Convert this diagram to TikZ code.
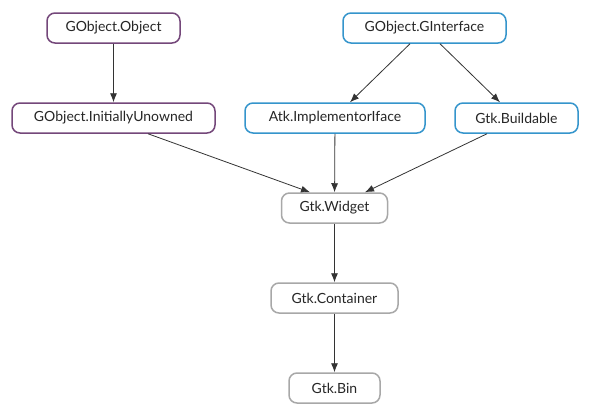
\documentclass[tikz,border=0pt]{standalone}
\usepackage{fontspec}
\setmainfont{Lato}
\usetikzlibrary{arrows.meta}
\definecolor{gpurple}{HTML}{74477A}
\definecolor{gblue}{HTML}{3595CC}
\definecolor{ggray}{HTML}{A8A8A8}
\definecolor{edgec}{HTML}{333333}
\tikzset{
  cls/.style={draw, line width=1.5pt, rounded corners=8pt, fill=white, minimum height=30pt,
    inner xsep=0pt, inner ysep=0pt, font=\fontsize{14}{16}\selectfont, text=black!85},
  purplebox/.style={cls, draw=gpurple},
  bluebox/.style={cls, draw=gblue},
  graybox/.style={cls, draw=ggray},
  edge/.style={draw=edgec, line width=0.8pt, -{Latex[length=9pt,width=7pt]}}
}
\begin{document}
\begin{tikzpicture}[x=1pt,y=-1pt]
\useasboundingbox[fill=white] (0,0) rectangle (595,416);
\node[purplebox, minimum width=133pt] (obj) at (113.5,28) {GObject.Object};
\node[bluebox, minimum width=163pt] (gi) at (424.5,28) {GObject.GInterface};
\node[purplebox, minimum width=203pt] (iu) at (113.5,118) {GObject.InitiallyUnowned};
\node[bluebox, minimum width=180pt] (atk) at (335,118) {Atk.ImplementorIface};
\node[bluebox, minimum width=123pt] (bld) at (516.5,118) {Gtk.Buildable};
\node[graybox, minimum width=106pt] (wid) at (334.5,208) {Gtk.Widget};
\node[graybox, minimum width=127pt] (con) at (334.5,298) {Gtk.Container};
\node[graybox, minimum width=91pt] (bin) at (334.5,388) {Gtk.Bin};
\draw[edge] (obj) -- (iu);
\draw[edge] (gi.south -| 410,0) -- (atk.north -| 350,0);
\draw[edge] (gi.south -| 440,0) -- (bld.north -| 500,0);
\draw[edge] (iu.south -| 148,0) -- (wid.north -| 310,0);
\draw[edge] (atk) -- (wid);
\draw[edge] (bld.south -| 487,0) -- (wid.north -| 365,0);
\draw[edge] (wid) -- (con);
\draw[edge] (con) -- (bin);
\end{tikzpicture}
\end{document}
